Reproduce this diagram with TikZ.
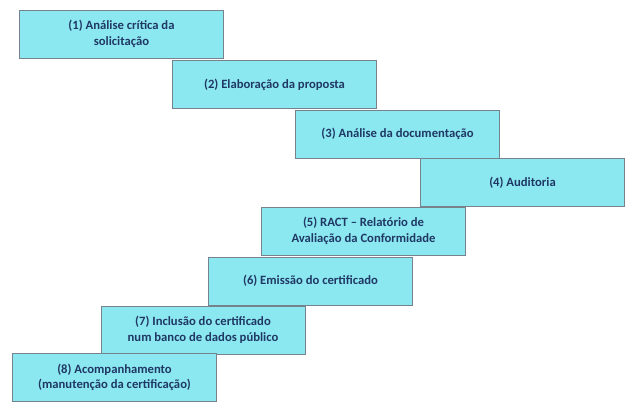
\documentclass[tikz,border=0pt]{standalone}
\usepackage{fontspec}
\setmainfont{Carlito}
\usepackage{tikz}

\definecolor{stepfill}{RGB}{140,232,240}
\definecolor{steptext}{RGB}{31,56,100}
\definecolor{stepline}{RGB}{120,130,140}

\begin{document}
\begin{tikzpicture}[x=0.025cm, y=-0.025cm,
  stepbox/.style={draw=stepline, fill=stepfill, minimum width=5.1cm, minimum height=1.2cm,
    align=center, text=steptext, font=\fontsize{9}{11}\selectfont\bfseries, inner sep=1pt}]

\useasboundingbox (0,0) rectangle (636,418);

% Steps of the certification process
\node[stepbox] (analise) at (121.5, 34) {(1) Análise crítica da\\solicitação};
\node[stepbox] (proposta) at (274.5, 84.5) {(2) Elaboração da proposta};
\node[stepbox] (documentacao) at (397.5, 134) {(3) Análise da documentação};
\node[stepbox] (auditoria) at (522.5, 182.5) {(4) Auditoria};
\node[stepbox] (ract) at (363.5, 231) {(5) RACT -- Relatório de\\Avaliação da Conformidade};
\node[stepbox] (emissao) at (310.5, 281) {(6) Emissão do certificado};
\node[stepbox] (inclusao) at (203, 330) {(7) Inclusão do certificado\\num banco de dados público};
\node[stepbox] (acompanhamento) at (114.5, 377.5) {(8) Acompanhamento\\(manutenção da certificação)};

\end{tikzpicture}
\end{document}
